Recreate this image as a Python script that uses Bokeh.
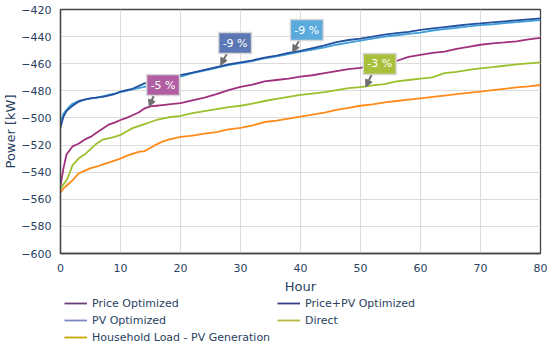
from bokeh.plotting import figure
from bokeh.layouts import column
from bokeh.models import Legend, LegendItem, Label, Arrow, NormalHead, FixedTicker, Range1d
from bokeh.embed import file_html
from bokeh.resources import INLINE

hours = [0, 0.5, 1, 1.5, 2, 3, 4, 5, 6, 7, 8, 9, 10, 11, 12, 13, 14, 15, 16, 17, 18, 20, 22, 24, 26, 28,
         30, 32, 34, 36, 38, 40, 42, 44, 46, 48, 50, 52, 54, 56, 58, 60, 62, 64, 66, 68, 70, 72, 74, 76, 78, 80]

price_opt = [-550, -537, -527, -524, -521, -519, -516, -514, -511, -508, -505, -503.5, -501.5, -500, -498, -496,
             -493, -491.5, -491, -490.5, -490, -489, -487, -485, -482.5, -479.5, -477, -475.5, -473, -472, -471,
             -469.5, -468.5, -467, -465.5, -464, -463, -461, -460, -458, -455, -453.5, -452, -451, -449, -447.5,
             -446, -445, -444.3, -443.5, -442, -441]
price_pv_opt = [-507, -499, -495, -493, -491, -488, -486.5, -485.5, -485, -484.5, -483.5, -482.5, -480.5, -479.5,
                -478.5, -476.5, -474.5, -474, -473, -471.5, -470.5, -468.5, -466.5, -464.5, -462.5, -460.5, -459,
                -457.5, -455.5, -454, -452, -450.5, -448.5, -446.5, -444, -442.5, -441.5, -440, -438.5, -437.5,
                -436.5, -435, -434, -433, -432, -431, -430.3, -429.5, -428.7, -428, -427.3, -426.6]
pv_opt = [-503, -497, -494, -491.5, -489.5, -487.5, -486.5, -485.5, -485, -484, -483, -482, -481, -480, -479, -478,
          -477, -476.5, -475, -473, -471.5, -469.5, -467, -465, -463, -461, -459.5, -458, -456, -454.5, -453, -451,
          -449.5, -448, -446, -444.5, -443, -441.5, -440, -439, -438, -437, -435.5, -434.5, -433.5, -432.5, -431.5,
          -431, -430, -429.3, -428.5, -427.8]
direct = [-552, -549, -546, -541, -535, -530, -527, -523, -519, -516, -515, -514, -512.5, -510, -507.5, -506, -504.5,
          -503, -501.5, -500.5, -499.5, -498.5, -496.5, -495, -493.5, -492, -491, -489.5, -487.5, -486, -484.5, -483,
          -482, -481, -479.5, -478, -477.3, -476, -475, -473, -472, -471, -470, -467, -466, -464.5, -463.4, -462.5,
          -461.5, -460.5, -459.7, -459]
household = [-555, -552, -550, -548, -546, -541, -539, -537, -536, -534.5, -533, -531.5, -530, -528, -526.5, -525,
             -524.5, -522, -519.5, -517.5, -516, -514, -513, -511.5, -510.5, -508.5, -507.3, -505.5, -503, -502,
             -500.5, -499, -497.5, -496, -494, -492.5, -491, -490, -488.5, -487.5, -486.5, -485.5, -484.5, -483.5,
             -482.5, -481.5, -480.6, -479.5, -478.5, -477.5, -476.7, -475.7]

x_ticks = [0, 10, 20, 30, 40, 50, 60, 70, 80]
y_ticks = [-600, -580, -560, -540, -520, -500, -480, -460, -440, -420]

# annotations: text, box centre (hour, kW), arrow start, arrow tip
ann_text = ["-5 %", "-9 %", "-9 %", "-3 %"]
ann_box_x = [17.1, 29.1, 41.05, 53.2]
ann_box_y = [-475.7, -444.8, -435.2, -460.2]
ann_start_x = [15.7, 27.8, 39.8, 51.9]
ann_start_y = [-481.5, -452.0, -442.6, -467.6]
ann_tip_x = [14.8, 26.7, 38.7, 50.9]
ann_tip_y = [-491.8, -461.0, -451.4, -477.1]
ann_colors = ["#b25ea3", "#5b78b5", "#5aaadc", "#a9c03c"]

FONT = "DejaVu Sans"
TXT = "#2a3f5f"

p = figure(width=550, height=296, output_backend="svg", toolbar_location=None,
           x_range=Range1d(0, 80), y_range=Range1d(-600, -420),
           min_border_left=60, min_border_right=10, min_border_top=9, min_border_bottom=42)

p.outline_line_color = "#444444"
p.outline_line_width = 1.3
p.background_fill_color = "white"
p.border_fill_color = "white"

for ax in (p.xaxis[0], p.yaxis[0]):
    ax.major_tick_line_color = None
    ax.minor_tick_line_color = None
    ax.axis_line_color = "#444444"
    ax.axis_line_width = 1.3
    ax.major_label_text_font = FONT
    ax.major_label_text_font_size = "11px"
    ax.major_label_text_color = TXT
    ax.axis_label_text_font = FONT
    ax.axis_label_text_font_size = "13px"
    ax.axis_label_text_color = TXT
    ax.axis_label_text_font_style = "normal"

p.xaxis.ticker = FixedTicker(ticks=x_ticks)
p.yaxis.ticker = FixedTicker(ticks=y_ticks)
p.xaxis.major_label_standoff = 4
p.yaxis.major_label_standoff = 3
p.xaxis.axis_label = "Hour"
p.yaxis.axis_label = "Power [kW]"
p.xaxis.axis_label_standoff = 4
p.yaxis.axis_label_standoff = 0

p.xgrid.ticker = FixedTicker(ticks=x_ticks)
p.ygrid.ticker = FixedTicker(ticks=y_ticks)
for g in (p.xgrid[0], p.ygrid[0]):
    g.grid_line_color = "#dcdcdc"
    g.grid_line_width = 1

p.line(hours, household, line_color="#ff8a1c", line_width=1.8)
p.line(hours, direct, line_color="#9cc02c", line_width=1.8)
p.line(hours, price_opt, line_color="#a0307f", line_width=1.8)
p.line(hours, pv_opt, line_color="#3f9fd8", line_width=1.8)
p.line(hours, price_pv_opt, line_color="#2452a0", line_width=1.8)

for i in range(len(ann_text)):
    p.add_layout(Arrow(end=NormalHead(size=7, fill_color="#6e6e6e", line_color="#6e6e6e"),
                       x_start=ann_start_x[i], y_start=ann_start_y[i],
                       x_end=ann_tip_x[i], y_end=ann_tip_y[i],
                       line_color="#6e6e6e", line_width=2))
    p.add_layout(Label(x=ann_box_x[i], y=ann_box_y[i], text=ann_text[i],
                       text_align="center", text_baseline="middle",
                       text_font=FONT, text_font_size="11px", text_color="white",
                       background_fill_color=ann_colors[i], border_line_color="#d8d8d8",
                       border_line_width=1.5, padding=4))

# legend in a separate strip below the chart
q = figure(width=550, height=50, output_backend="svg", toolbar_location=None,
           x_range=Range1d(0, 1), y_range=Range1d(0, 1), x_axis_type=None, y_axis_type=None,
           min_border_left=60, min_border_right=0, min_border_top=0, min_border_bottom=0)
q.outline_line_color = None
q.xgrid.visible = False
q.ygrid.visible = False

l_price = q.line([None], [None], line_color="#6b3d7c", line_width=1.8)
l_pv = q.line([None], [None], line_color="#7f88c2", line_width=1.8)
l_house = q.line([None], [None], line_color="#c9a600", line_width=1.8)
l_ppv = q.line([None], [None], line_color="#343b8c", line_width=1.8)
l_direct = q.line([None], [None], line_color="#b9b83c", line_width=1.8)

leg = Legend(items=[LegendItem(label="Price Optimized", renderers=[l_price]),
                    LegendItem(label="PV Optimized", renderers=[l_pv]),
                    LegendItem(label="Household Load - PV Generation", renderers=[l_house]),
                    LegendItem(label="Price+PV Optimized", renderers=[l_ppv]),
                    LegendItem(label="Direct", renderers=[l_direct])],
             location=(4, 2), orientation="vertical", nrows=3)
leg.label_text_font = FONT
leg.label_text_font_size = "11px"
leg.label_text_color = TXT
leg.glyph_width = 23
leg.glyph_height = 14
leg.label_height = 14
leg.label_width = 182
leg.label_standoff = 5
leg.spacing = 3
leg.padding = 0
leg.margin = 0
leg.border_line_color = None
leg.background_fill_alpha = 0
q.add_layout(leg, "center")

open("out.html", "w").write(file_html(column(p, q), INLINE))
